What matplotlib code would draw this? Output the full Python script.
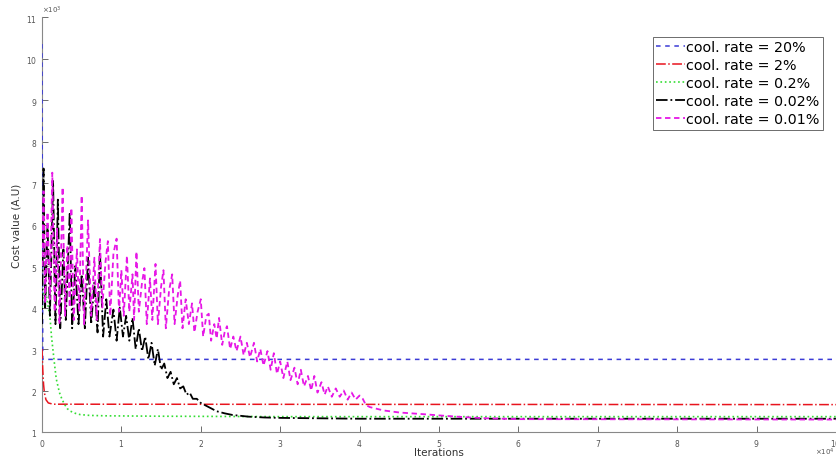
import numpy as np
import matplotlib.pyplot as plt

# values: x in units of 1e4 iterations, y in units of 1e3
blue_x = [0.0, 0.01, 10.0]
blue_y = [10.35, 2.75, 2.75]

red_x = [0.0, 0.01, 0.02, 0.03, 0.05, 0.08, 0.14, 10.0]
red_y = [3.0, 2.5, 2.15, 1.95, 1.78, 1.7, 1.67, 1.66]

green_x = [0.0, 0.02, 0.04, 0.07, 0.10, 0.12, 0.14, 0.16, 0.18, 0.22, 0.25, 0.28,
           0.32, 0.36, 0.42, 0.48, 0.6, 0.8, 1.5, 3.0, 10.0]
green_y = [4.0, 4.4, 4.5, 4.1, 3.8, 3.3, 2.95, 2.6, 2.28, 1.95, 1.8, 1.68,
           1.56, 1.5, 1.45, 1.42, 1.4, 1.39, 1.38, 1.37, 1.37]

black_x = [0.00, 0.02, 0.04, 0.07, 0.10, 0.14, 0.17, 0.20, 0.23, 0.27, 0.30, 0.35,
           0.38, 0.42, 0.46, 0.50, 0.54, 0.58, 0.62, 0.66, 0.70, 0.73, 0.77, 0.81,
           0.85, 0.90, 0.94, 0.98, 1.02, 1.06, 1.10, 1.14, 1.18, 1.22, 1.26, 1.30,
           1.34, 1.38, 1.42, 1.46, 1.50, 1.54, 1.58, 1.62, 1.66, 1.70, 1.74, 1.78,
           1.82, 1.86, 1.90, 1.95, 2.00, 2.05, 2.10, 2.15, 2.2, 2.3, 2.4, 2.6,
           2.8, 3.0, 4.0, 10.0]
black_y = [3.6, 7.35, 4.0, 6.0, 3.8, 7.05, 3.6, 6.6, 3.5, 5.4, 3.7, 6.3,
           3.5, 5.0, 3.6, 4.8, 3.5, 5.2, 3.6, 4.6, 3.4, 5.35, 3.3, 4.2,
           3.3, 3.95, 3.2, 4.0, 3.3, 3.8, 3.2, 3.75, 3.0, 3.5, 2.95, 3.3,
           2.75, 3.15, 2.6, 3.0, 2.5, 2.65, 2.3, 2.45, 2.15, 2.3, 2.05, 2.1,
           1.9, 1.95, 1.8, 1.8, 1.7, 1.65, 1.6, 1.55, 1.5, 1.45, 1.41, 1.37,
           1.35, 1.34, 1.32, 1.32]

mag_x = [0.00, 0.02, 0.04, 0.07, 0.10, 0.13, 0.16, 0.19, 0.22, 0.26, 0.29, 0.32,
         0.35, 0.37, 0.40, 0.44, 0.47, 0.50, 0.53, 0.56, 0.58, 0.62, 0.66, 0.69,
         0.73, 0.76, 0.80, 0.83, 0.86, 0.90, 0.94, 0.97, 1.00, 1.03, 1.07, 1.10,
         1.14, 1.16, 1.19, 1.22, 1.26, 1.29, 1.32, 1.36, 1.39, 1.43, 1.46, 1.50,
         1.53, 1.56, 1.60, 1.64, 1.67, 1.71, 1.74, 1.77, 1.81, 1.85, 1.89, 1.92,
         1.96, 2.00, 2.03, 2.07, 2.10, 2.13, 2.17, 2.20, 2.23, 2.27, 2.30, 2.33,
         2.37, 2.41, 2.45, 2.50, 2.54, 2.58, 2.62, 2.67, 2.71, 2.75, 2.79, 2.84,
         2.88, 2.92, 2.96, 3.00, 3.04, 3.09, 3.13, 3.18, 3.22, 3.26, 3.30, 3.35,
         3.39, 3.43, 3.47, 3.52, 3.56, 3.60, 3.65, 3.70, 3.75, 3.80, 3.85, 3.90,
         3.95, 4.00, 4.04, 4.08, 4.13, 4.3, 4.5, 4.8, 5.0, 5.3, 5.6, 6.0, 10.0]
mag_y = [5.0, 6.8, 4.1, 6.3, 4.2, 7.25, 3.9, 5.9, 3.6, 6.9, 3.8, 5.5,
         4.0, 6.4, 3.7, 5.4, 3.9, 6.7, 3.6, 5.0, 6.1, 3.8, 5.2, 3.7,
         5.65, 4.0, 5.1, 5.6, 3.8, 5.3, 5.66, 3.9, 4.9, 3.8, 5.25, 3.9,
         4.8, 3.7, 5.35, 3.9, 4.6, 4.95, 3.6, 4.7, 3.7, 5.05, 3.6, 4.5,
         4.9, 3.5, 4.4, 4.8, 3.6, 4.3, 4.65, 3.5, 4.2, 3.6, 4.1, 3.4,
         3.9, 4.2, 3.3, 3.8, 3.85, 3.2, 3.6, 3.25, 3.75, 3.1, 3.4, 3.55,
         3.0, 3.3, 2.95, 3.3, 2.85, 3.15, 2.8, 3.15, 2.7, 3.0, 2.6, 2.95,
         2.5, 2.9, 2.4, 2.7, 2.3, 2.7, 2.25, 2.55, 2.15, 2.5, 2.1, 2.35,
         2.0, 2.35, 1.95, 2.2, 1.9, 2.1, 1.85, 2.05, 1.85, 2.0, 1.78, 1.95,
         1.78, 1.88, 1.8, 1.65, 1.6, 1.52, 1.47, 1.43, 1.4, 1.36, 1.33, 1.31, 1.3]

labels = ['cool. rate = 20%', 'cool. rate = 2%', 'cool. rate = 0.2%',
          'cool. rate = 0.02%', 'cool. rate = 0.01%']

series = [(blue_x, blue_y, '#3b3bd6', (0, (3, 3)), 1.1),
          (red_x, red_y, '#e8141e', '-.', 1.1),
          (green_x, green_y, '#33dd33', ':', 1.2),
          (black_x, black_y, 'black', '-.', 1.3),
          (mag_x, mag_y, '#e617e6', (0, (3, 2)), 1.3)]

fig = plt.figure(figsize=(8.36, 4.6), dpi=100)
ax = fig.add_axes([0.0502, 0.0587, 0.9498, 0.902])

for (xs, ys, col, ls, lw), lab in zip(series, labels):
    ax.plot(np.array(xs) * 1e4, np.array(ys) * 1e3, color=col, linestyle=ls,
            linewidth=lw, label=lab, zorder=3)

ax.set_xlim(0, 1e5)
ax.set_ylim(1000, 11000)
ax.set_xticks(np.arange(0, 11) * 1e4)
ax.set_yticks(np.arange(1, 12) * 1e3)
ax.ticklabel_format(axis='x', style='sci', scilimits=(4, 4), useMathText=True)
ax.ticklabel_format(axis='y', style='sci', scilimits=(3, 3), useMathText=True)
ax.yaxis.get_offset_text().set_fontsize(5)
ax.yaxis.get_offset_text().set_color('#555555')
# x multiplier drawn by hand so it stays inside the figure
ax.xaxis.get_offset_text().set_visible(False)
fig.text(0.999, 0.004, r'$\times10^{4}$', fontsize=5, color='#555555',
         ha='right', va='bottom')

ax.tick_params(direction='in', labelsize=5.5, colors='#555555', length=4, width=0.6)
for s in ['top', 'right']:
    ax.spines[s].set_visible(False)
for s in ['left', 'bottom']:
    ax.spines[s].set_color('#888888')
    ax.spines[s].set_linewidth(0.8)

ax.set_xlabel('Iterations', fontsize=7.5, color='#333333', va='top')
ax.xaxis.set_label_coords(0.5, -0.036)
ax.set_ylabel('Cost value (A.U)', fontsize=7.5, color='#333333', labelpad=3)

leg = ax.legend(loc='upper right', bbox_to_anchor=(0.983, 0.953), fontsize=10.3,
                handlelength=2.0, handletextpad=0.05, borderpad=0.25,
                labelspacing=0.28, borderaxespad=0, fancybox=False, framealpha=1)
leg.get_frame().set_edgecolor('#555555')
leg.get_frame().set_linewidth(0.6)

plt.savefig('out.png', dpi=100)
